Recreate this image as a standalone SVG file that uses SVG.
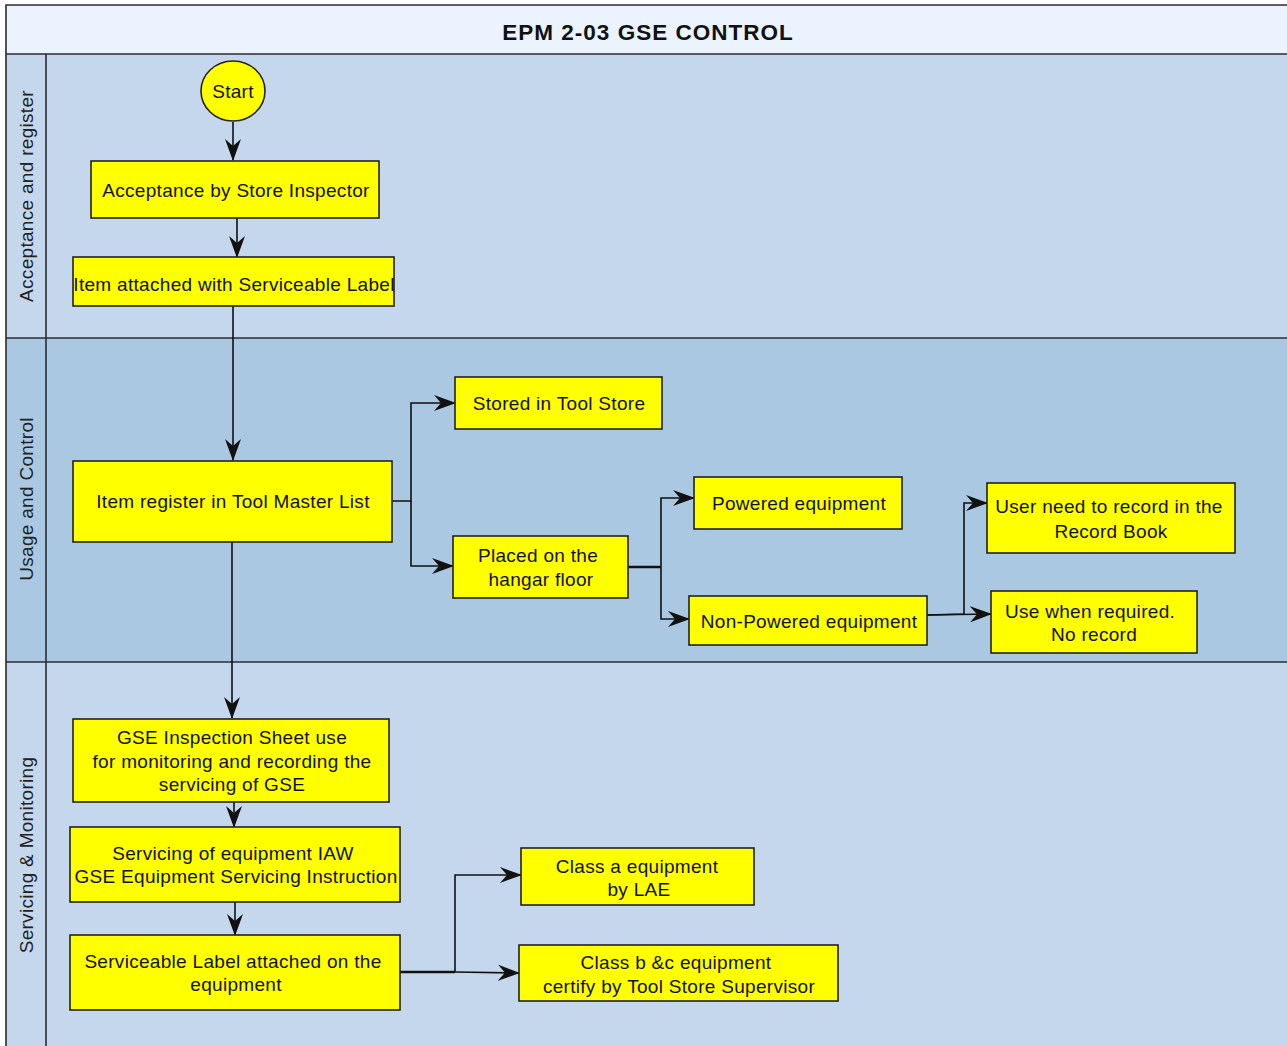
<svg xmlns="http://www.w3.org/2000/svg" width="1287" height="1046" viewBox="0 0 1287 1046">
  <style>
    .lane-a { fill: #c4d7ec; }
    .lane-b { fill: #abc8e2; }
    .frame { fill: none; stroke: #2b2b2b; stroke-width: 1.6; }
    .box { fill: #ffff00; stroke: #222; stroke-width: 1.6; }
    .txt { font-family: "Liberation Sans", Arial, sans-serif; font-size: 19px; letter-spacing: 0.3px; fill: #111; text-anchor: middle; }
    .lane-txt { font-family: "Liberation Sans", Arial, sans-serif; font-size: 19px; letter-spacing: 0.3px; fill: #222; text-anchor: middle; }
    .title { font-family: "Liberation Sans", Arial, sans-serif; font-size: 22.5px; letter-spacing: 1px; font-weight: bold; fill: #111; text-anchor: middle; }
    .edge { fill: none; stroke: #111; stroke-width: 1.6; }
    .edge-thick { fill: none; stroke: #111; stroke-width: 2.6; }
  </style>
  <defs>
    <marker id="arrow" viewBox="0 0 22 16" refX="21" refY="8" markerWidth="22" markerHeight="16" markerUnits="userSpaceOnUse" orient="auto">
      <path d="M0,0 L22,8 L0,16 L7,8 Z" fill="#111"/>
    </marker>
  </defs>

  <!-- pool background -->
  <rect x="0" y="0" width="1287" height="1046" fill="#ffffff"/>
  <rect x="6" y="5" width="1290" height="49" fill="#ebf3fe"/>
  <rect x="6" y="54" width="1290" height="284" class="lane-a"/>
  <rect x="6" y="338" width="1290" height="324" class="lane-b"/>
  <rect x="6" y="662" width="1290" height="390" class="lane-a"/>

  <!-- pool and lane borders -->
  <g id="pool-frame">
    <path class="frame" d="M6,1050 L6,5 L1295,5"/>
    <line class="frame" x1="6" y1="54" x2="1295" y2="54"/>
    <line class="frame" x1="6" y1="338" x2="1295" y2="338"/>
    <line class="frame" x1="6" y1="662" x2="1295" y2="662"/>
    <line class="frame" x1="46" y1="54" x2="46" y2="1050"/>
  </g>

  <text class="title" x="648" y="40">EPM 2-03 GSE CONTROL</text>

  <!-- lane headers -->
  <g id="lane-acceptance">
    <text class="lane-txt" transform="translate(33,196) rotate(-90)">Acceptance and register</text>
  </g>
  <g id="lane-usage">
    <text class="lane-txt" transform="translate(33,499) rotate(-90)">Usage and Control</text>
  </g>
  <g id="lane-servicing">
    <text class="lane-txt" transform="translate(33,855) rotate(-90)">Servicing &amp; Monitoring</text>
  </g>

  <!-- connectors -->
  <g id="connectors">
    <line class="edge" x1="233" y1="122" x2="233" y2="160" marker-end="url(#arrow)"/>
    <line class="edge" x1="237" y1="218" x2="237" y2="257" marker-end="url(#arrow)"/>
    <line class="edge" x1="233" y1="306" x2="233" y2="460" marker-end="url(#arrow)"/>
    <polyline class="edge" points="392,501 411,501 411,403 455,403" marker-end="url(#arrow)"/>
    <polyline class="edge" points="411,501 411,566 453,566" marker-end="url(#arrow)"/>
    <line class="edge-thick" x1="628" y1="567" x2="661" y2="567"/>
    <polyline class="edge" points="661,567 661,498 694,498" marker-end="url(#arrow)"/>
    <polyline class="edge" points="661,567 661,619 689,619" marker-end="url(#arrow)"/>
    <polyline class="edge" points="927,615 964,614 964,503 987,503" marker-end="url(#arrow)"/>
    <polyline class="edge" points="927,615 991,614" marker-end="url(#arrow)"/>
    <line class="edge" x1="232" y1="542" x2="232" y2="718" marker-end="url(#arrow)"/>
    <line class="edge" x1="234" y1="802" x2="234" y2="827" marker-end="url(#arrow)"/>
    <line class="edge" x1="235" y1="902" x2="235" y2="935" marker-end="url(#arrow)"/>
    <line class="edge-thick" x1="400" y1="972" x2="455" y2="972"/>
    <polyline class="edge" points="455,972 455,875 521,875" marker-end="url(#arrow)"/>
    <line class="edge" x1="455" y1="972" x2="519" y2="973" marker-end="url(#arrow)"/>
  </g>

  <!-- nodes -->
  <g id="start">
    <ellipse class="box" cx="233" cy="91" rx="32" ry="30"/>
    <text class="txt" x="233" y="98">Start</text>
  </g>
  <g id="acceptance">
    <rect class="box" x="91" y="161" width="288" height="57"/>
    <text class="txt" x="236" y="197">Acceptance by Store Inspector</text>
  </g>
  <g id="label-attached">
    <rect class="box" x="73" y="257" width="321" height="49"/>
    <text class="txt" x="234" y="291">Item attached with Serviceable Label</text>
  </g>
  <g id="master-list">
    <rect class="box" x="73" y="461" width="319" height="81"/>
    <text class="txt" x="233" y="508">Item register in Tool Master List</text>
  </g>
  <g id="tool-store">
    <rect class="box" x="455" y="377" width="207" height="52"/>
    <text class="txt" x="559" y="410">Stored in Tool Store</text>
  </g>
  <g id="hangar-floor">
    <rect class="box" x="453" y="536" width="175" height="62"/>
    <text class="txt" x="538" y="562">Placed on the</text>
    <text class="txt" x="541" y="586">hangar floor</text>
  </g>
  <g id="powered">
    <rect class="box" x="694" y="477" width="208" height="52"/>
    <text class="txt" x="799" y="510">Powered equipment</text>
  </g>
  <g id="non-powered">
    <rect class="box" x="689" y="596" width="238" height="49"/>
    <text class="txt" x="809" y="628">Non-Powered equipment</text>
  </g>
  <g id="record-book">
    <rect class="box" x="987" y="483" width="248" height="70"/>
    <text class="txt" x="1109" y="513">User need to record in the</text>
    <text class="txt" x="1111" y="538">Record Book</text>
  </g>
  <g id="no-record">
    <rect class="box" x="991" y="591" width="206" height="62"/>
    <text class="txt" x="1090" y="618">Use when required.</text>
    <text class="txt" x="1094" y="641">No record</text>
  </g>
  <g id="inspection-sheet">
    <rect class="box" x="73" y="719" width="316" height="83"/>
    <text class="txt" x="232" y="744">GSE Inspection Sheet use</text>
    <text class="txt" x="232" y="768">for monitoring and recording the</text>
    <text class="txt" x="232" y="791">servicing of GSE</text>
  </g>
  <g id="servicing">
    <rect class="box" x="70" y="827" width="330" height="75"/>
    <text class="txt" x="233" y="860">Servicing of equipment IAW</text>
    <text class="txt" x="236" y="883">GSE Equipment Servicing Instruction</text>
  </g>
  <g id="serviceable-label">
    <rect class="box" x="70" y="935" width="330" height="75"/>
    <text class="txt" x="233" y="968">Serviceable Label attached on the</text>
    <text class="txt" x="236" y="991">equipment</text>
  </g>
  <g id="class-a">
    <rect class="box" x="521" y="848" width="233" height="57"/>
    <text class="txt" x="637" y="873">Class a equipment</text>
    <text class="txt" x="639" y="896">by LAE</text>
  </g>
  <g id="class-bc">
    <rect class="box" x="519" y="945" width="319" height="56"/>
    <text class="txt" x="676" y="969">Class b &amp;c equipment</text>
    <text class="txt" x="679" y="993">certify by Tool Store Supervisor</text>
  </g>
</svg>
